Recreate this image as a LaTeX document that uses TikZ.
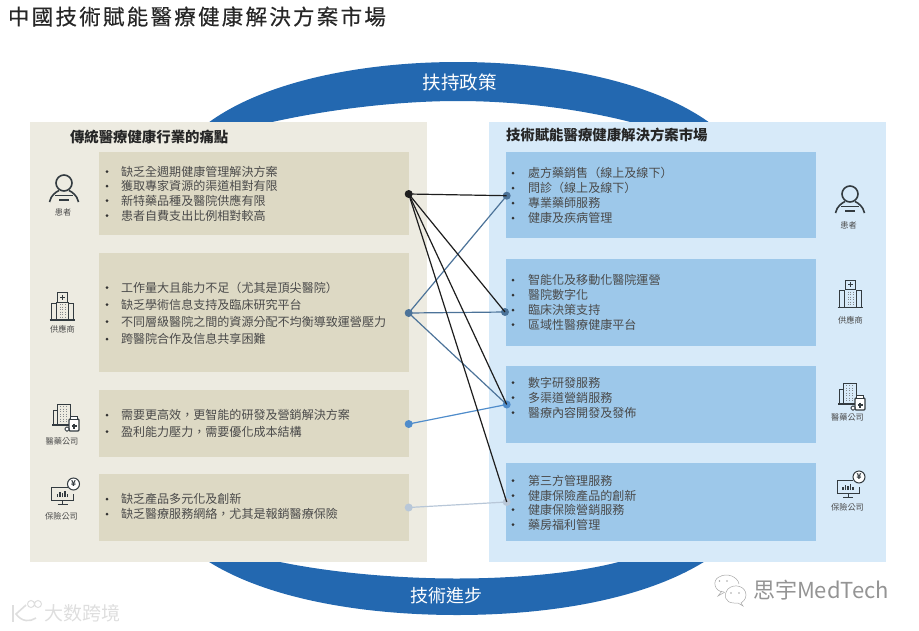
\documentclass[tikz,border=0pt]{standalone}
\usepackage{fontspec}
\setmainfont{Noto Sans CJK TC}
\definecolor{panL}{HTML}{EDEBE1}
\definecolor{boxL}{HTML}{DDD9C4}
\definecolor{panR}{HTML}{D7EAF9}
\definecolor{boxR}{HTML}{9DC8EA}
\definecolor{band}{HTML}{2368B0}
\definecolor{txt}{HTML}{4A4A4A}
\definecolor{ico}{HTML}{333B40}
\definecolor{cA}{HTML}{1E1E1E}
\definecolor{cB}{HTML}{4C7399}
\definecolor{cC}{HTML}{4F8CCB}
\definecolor{cD}{HTML}{B8C7D8}
\tikzset{
  every node/.style={inner sep=0pt,outer sep=0pt},
  panelbox/.style={anchor=north west},
  itemtxt/.style={anchor=west,yshift=-1pt,text=txt,font=\fontsize{12.05}{12}\selectfont,text height=9.5pt,text depth=2.4pt},
  headtxt/.style={anchor=west,text=black!85,font=\fontsize{14.4}{15}\selectfont\bfseries,text height=11pt,text depth=3pt},
  bandtxt/.style={text=white,font=\fontsize{18.5}{19}\selectfont},
  icolab/.style={text=txt,font=\fontsize{8.2}{9}\selectfont},
  dotnode/.style={circle,minimum size=8pt},
  link/.style={line width=1.2pt},
  icoline/.style={draw=ico,line width=1pt,fill=none},
  pics/person/.style={code={
    \draw[ico,line width=1.6pt] (0,0) circle (8);
    \draw[ico,line width=1.6pt] (-14.5,19) .. controls (-13,12) and (-8,9) .. (-5,7.5);
    \draw[ico,line width=1.6pt] (14.5,19) .. controls (13,12) and (8,9) .. (5,7.5);
    \draw[ico,line width=1.4pt] (-9,12.5) -- (9,12.5);
    \draw[ico,line width=1.4pt] (-5,17) -- (5,17);
  }},
  pics/hospital/.style={code={
    \draw[ico,line width=1.1pt] (-13,0) -- (12,0);
    \draw[icoline] (-11,0) -- (-11,-17) -- (-6,-17);
    \draw[icoline] (10.5,0) -- (10.5,-17) -- (5.5,-17);
    \draw[icoline] (-6,0) -- (-6,-18) (5.5,0) -- (5.5,-18);
    \draw[icoline] (-5,-18) rectangle (5,-27.5);
    \draw[ico,line width=1pt] (-2.5,-22.7) -- (2.5,-22.7) (0,-25.2) -- (0,-20.2);
    \foreach \q in {-2.5,0,2.5}
      \draw[ico!60,line width=.8pt,dash pattern=on 1pt off 1.5pt] (\q,-16) -- (\q,-1);
  }},
  pics/pharma/.style={code={
    \draw[ico,line width=1.1pt] (-10,0) -- (7,0);
    \draw[icoline] (-9,0) -- (-9,-15) -- (-5,-15);
    \draw[icoline] (-5,0) -- (-5,-21) -- (8,-21) -- (8,-6);
    \foreach \q in {-2,1,4}
      \draw[ico!60,line width=.8pt,dash pattern=on 1pt off 1.5pt] (\q,-19) -- (\q,-2);
    \draw[icoline,fill=white,rounded corners=1pt,line width=1.1pt] (7,-6) rectangle (17,6);
    \draw[icoline,fill=white] (8.5,-9) rectangle (15.5,-6);
    \draw[ico,line width=1.1pt] (9.5,1) -- (14.5,1) (12,-1.5) -- (12,3.5);
    \draw[icoline,fill=white,rounded corners=1.5pt] (3,2) rectangle (7,6);
  }},
  pics/insure/.style={code={
    \draw[icoline] (-11,-6) -- (-11,7) -- (11,7) -- (11,1);
    \draw[icoline] (-11,-6) -- (5,-6);
    \draw[ico,line width=1pt] (0,7) -- (0,11) (-5,11.5) -- (5,11.5);
    \draw[ico,line width=1.1pt] (-5,4) -- (-5,1) (-2.5,4) -- (-2.5,-1) (0,4) -- (0,0) (2.5,4) -- (2.5,-2) (5,4) -- (5,0.5);
    \draw[icoline,fill=white] (11,-9) circle (6);
    \node (yen\pgfkeysvalueof{/tikz/yenid}) at (11,-9) {\fontsize{8}{8}\selectfont\bfseries\textcolor{ico}{¥}};
  }},
  yenid/.initial=a,
}
\begin{document}
\begin{tikzpicture}[x=1pt,y=-1pt]
\useasboundingbox (0,0) rectangle (919,630);
% title
\node[anchor=west,text=black!85,font=\fontsize{21.5}{22}\selectfont] (title) at (8,16.5) {\addfontfeature{LetterSpace=10.5,FakeBold=0.35}中國技術賦能醫療健康解決方案市場};
% bands
\fill[band] (204,126) .. controls (260,82) and (360,62) .. (458,62)
  .. controls (556,62) and (657,82) .. (714,126) -- (645,126)
  .. controls (590,110) and (520,101) .. (458,101)
  .. controls (396,101) and (320,110) .. (255,126) -- cycle;
\fill[band] (203,558) .. controls (262,598) and (360,615) .. (457,615)
  .. controls (554,615) and (650,598) .. (710,558) -- (632,558)
  .. controls (590,572) and (520,578.5) .. (457,578.5)
  .. controls (394,578.5) and (320,572) .. (262,558) -- cycle;
\node[bandtxt] (policy) at (459.5,82.5) {扶持政策};
\node[bandtxt,font=\fontsize{18}{19}\selectfont] (tech) at (446.5,595.5) {技術進步};
% panels
\node[panelbox,fill=panL,minimum width=397pt,minimum height=440pt] (pl) at (30,122) {};
\node[panelbox,fill=panR,minimum width=397pt,minimum height=440pt] (pr) at (489,122) {};
\node[headtxt] (hl) at (70,138) {傳統醫療健康行業的痛點};
\node[headtxt] (hr) at (506,136.5) {技術賦能醫療健康解決方案市場};
% boxes
\foreach \n/\y/\h in {la/152/83,lb/253/119,lc/390/67,ld/474/67}
  \node[panelbox,fill=boxL,minimum width=310pt,minimum height=\h pt] (\n) at (99,\y) {};
\foreach \n/\y/\h in {ra/152/86,rb/259/87,rc/366/77,rd/463/78}
  \node[panelbox,fill=boxR,minimum width=310pt,minimum height=\h pt] (\n) at (506,\y) {};
% left items
\foreach \y/\t [count=\i] in {171.5/缺乏全週期健康管理解決方案,186/獲取專家資源的渠道相對有限,200.5/新特藥品種及醫院供應有限,215.5/患者自費支出比例相對較高}{
  \fill[black!80] (107,\y) circle (1.5);
  \node[itemtxt] (lat\i) at (121,\y) {\t};}
\foreach \y/\t [count=\i] in {287.5/工作量大且能力不足（尤其是頂尖醫院）,304.5/缺乏學術信息支持及臨床研究平台,321.5/不同層級醫院之間的資源分配不均衡導致運營壓力,339/跨醫院合作及信息共享困難}{
  \fill[black!80] (107,\y) circle (1.5);
  \node[itemtxt] (lbt\i) at (121,\y) {\t};}
\foreach \y/\t [count=\i] in {415/需要更高效，更智能的研發及營銷解決方案,431.5/盈利能力壓力，需要優化成本結構}{
  \fill[black!80] (107,\y) circle (1.5);
  \node[itemtxt] (lct\i) at (121,\y) {\t};}
\foreach \y/\t [count=\i] in {499/缺乏產品多元化及創新,514/缺乏醫療服務網絡，尤其是報銷醫療保險}{
  \fill[black!80] (107,\y) circle (1.5);
  \node[itemtxt] (ldt\i) at (121,\y) {\t};}
% right items
\foreach \y/\t [count=\i] in {173/處方藥銷售（線上及線下）,188/問診（線上及線下）,203/專業藥師服務,218/健康及疾病管理}{
  \fill[black!80] (513,\y) circle (1.5);
  \node[itemtxt] (rat\i) at (528,\y) {\t};}
\foreach \y/\t [count=\i] in {280/智能化及移動化醫院運營,295/醫院數字化,310/臨床決策支持,324.5/區域性醫療健康平台}{
  \fill[black!80] (513,\y) circle (1.5);
  \node[itemtxt] (rbt\i) at (528,\y) {\t};}
\foreach \y/\t [count=\i] in {382.5/數字研發服務,397.5/多渠道營銷服務,412.5/醫療內容開發及發佈}{
  \fill[black!80] (513,\y) circle (1.5);
  \node[itemtxt] (rct\i) at (528,\y) {\t};}
\foreach \y/\t [count=\i] in {480.5/第三方管理服務,495.5/健康保險產品的創新,509.5/健康保險營銷服務,524.5/藥房福利管理}{
  \fill[black!80] (513,\y) circle (1.5);
  \node[itemtxt] (rdt\i) at (528,\y) {\t};}
% dots
\node[dotnode,fill=cA] (d1) at (408.7,194) {};
\node[dotnode,fill=cB] (d2) at (408.7,313) {};
\node[dotnode,fill=cC] (d3) at (408.7,424) {};
\node[dotnode,fill=cD] (d4) at (408.7,507.5) {};
\node[dotnode,fill=cB] (e1) at (506.7,195.7) {};
\node[dotnode,fill=cB] (e2) at (505,312) {};
\node[dotnode,fill=cC] (e3) at (506.7,404.5) {};
\node[dotnode,fill=cD] (e4) at (506.7,502) {};
% links
\draw[link,cB] (d2.center) -- (e1.center);
\draw[link,cB] (d2.center) -- (e2.center);
\draw[link,cB] (d2.center) -- (e3.center);
\draw[link,cC] (d3.center) -- (e3.center);
\draw[link,cD] (d4.center) -- (e4.center);
\draw[link,cA] (d1.center) -- (e1.center);
\draw[link,cA] (d1.center) -- (e2.center);
\draw[link,cA] (d1.center) -- (e3.center);
\draw[link,cA] (d1.center) -- (e4.center);
% icons left
\pic at (64,183) {person};
\node[icolab] (il1) at (63,212) {患者};
\pic at (62.5,320) {hospital};
\node[icolab] (il2) at (62.5,329.5) {供應商};
\pic at (62,425) {pharma};
\node[icolab] (il3) at (62,441) {醫藥公司};
\pic[yenid=a] at (62.5,493) {insure};
\node[icolab] (il4) at (61.5,516) {保險公司};
% icons right
\pic at (850,194) {person};
\node[icolab] (ir1) at (848.5,225) {患者};
\pic at (850.5,307.5) {hospital};
\node[icolab] (ir2) at (850.5,320.5) {供應商};
\pic at (848,404) {pharma};
\node[icolab] (ir3) at (847.5,417.5) {醫藥公司};
\pic[yenid=b] at (848,486) {insure};
\node[icolab] (ir4) at (847.5,507.5) {保險公司};
% watermarks
\node[anchor=west,text=black!42,font=\fontsize{22}{22}\selectfont] (wm1) at (753,590) {思宇MedTech};
\begin{scope}[draw=black!35,line width=.5pt]
\draw (724,592) .. controls (714,592) and (712,580) .. (719,577) .. controls (727,572) and (738,577) .. (739,584);
\draw (722,591) -- (718,596) -- (725,592);
\draw (734,603) .. controls (725,603) and (723,595) .. (728,589) .. controls (734,583) and (746,586) .. (746,595) .. controls (746,600) and (742,602) .. (741,603) -- (743,606) -- (738,603) -- cycle;
\fill[black!35] (719.5,581) circle (.8) (727,581) circle (.8) (731,593) circle (.8) (739,593) circle (.8);
\end{scope}
\node[anchor=west,text=black!13,font=\fontsize{19}{19}\selectfont] (wm2) at (45,613) {大数跨境};
\begin{scope}[draw=black!13,line width=1.6pt]
\draw (13,605) -- (13,622);
\draw (26,605) -- (16,614) .. controls (22,622) and (30,622) .. (36,618);
\draw[line width=1pt] (31,604) circle (3.5) (38,604) circle (3.5);
\end{scope}
\end{tikzpicture}
\end{document}
